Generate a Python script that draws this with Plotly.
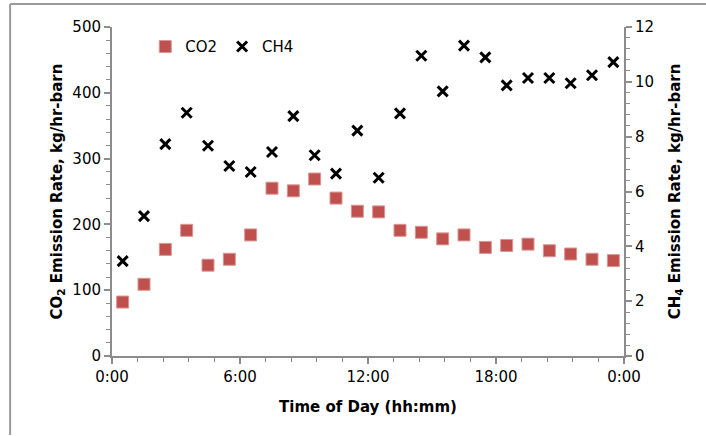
import plotly.graph_objects as go

# hour of day (mid-point of each hourly interval)
hours = [0.5, 1.5, 2.5, 3.5, 4.5, 5.5, 6.5, 7.5, 8.5, 9.5, 10.5, 11.5,
         12.5, 13.5, 14.5, 15.5, 16.5, 17.5, 18.5, 19.5, 20.5, 21.5, 22.5, 23.5]

co2 = [82, 109, 162, 191, 138, 147, 184, 255, 251, 269, 240, 220,
       219, 191, 188, 178, 184, 165, 168, 170, 160, 155, 147, 145]

ch4 = [3.46, 5.1, 7.73, 8.87, 7.67, 6.93, 6.71, 7.44, 8.75, 7.32, 6.65, 8.22,
       6.5, 8.85, 10.95, 9.65, 11.32, 10.89, 9.87, 10.14, 10.14, 9.95, 10.24, 10.72]

x_ticks = [0, 6, 12, 18, 24]
x_labels = ["0:00", "6:00", "12:00", "18:00", "0:00"]

font = "DejaVu Sans, Arial, sans-serif"
axis_grey = "#8c8c8c"

fig = go.Figure()
fig.add_trace(go.Scatter(
    x=hours, y=co2, name="CO2", mode="markers",
    marker=dict(symbol="square", size=12, color="#c0504d",
                line=dict(width=1, color="#d99694")),
))
fig.add_trace(go.Scatter(
    x=hours, y=ch4, name="CH4", mode="markers", yaxis="y2",
    marker=dict(symbol="x-thin", size=10, color="black",
                line=dict(width=3, color="black")),
))

tick_font = dict(family=font, size=15, color="black")
title_font = dict(family=font, size=15, color="black")

fig.update_layout(
    width=706, height=436,
    margin=dict(l=112, r=82, t=27, b=80),
    paper_bgcolor="white", plot_bgcolor="white",
    font=dict(family=font, size=15, color="black"),
    showlegend=True,
    legend=dict(orientation="h", x=0.065, y=0.99, xanchor="left", yanchor="top",
                bgcolor="rgba(0,0,0,0)", font=dict(family=font, size=15),
                itemwidth=30, tracegroupgap=0),
    xaxis=dict(
        range=[0, 24], tickmode="array", tickvals=x_ticks, ticktext=x_labels,
        tickfont=tick_font, automargin=False,
        showgrid=False, zeroline=False, showline=True, linecolor=axis_grey,
        linewidth=2, ticks="outside", ticklen=6, tickwidth=1.5, tickcolor=axis_grey,
        minor=dict(tickmode="linear", tick0=0, dtick=1.2, ticks="outside",
                   ticklen=4, tickcolor=axis_grey, tickwidth=1),
        title=dict(text="<b>Time of Day (hh:mm)</b>", font=title_font, standoff=16),
    ),
    yaxis=dict(
        range=[0, 500], dtick=100, showgrid=False, zeroline=False,
        tickfont=tick_font, automargin=False,
        showline=True, linecolor=axis_grey, linewidth=2,
        ticks="outside", ticklen=6, tickwidth=1.5, tickcolor=axis_grey,
        minor=dict(dtick=20, ticks="outside", ticklen=4, tickcolor=axis_grey, tickwidth=1),
        title=dict(text="<b>CO<sub>2</sub> Emission Rate, kg/hr-barn</b>",
                   font=title_font, standoff=6),
    ),
    yaxis2=dict(
        range=[0, 12], dtick=2, overlaying="y", side="right",
        showgrid=False, zeroline=False,
        tickfont=tick_font, automargin=False,
        showline=True, linecolor=axis_grey, linewidth=2,
        ticks="outside", ticklen=6, tickwidth=1.5, tickcolor=axis_grey,
        minor=dict(dtick=0.4, ticks="outside", ticklen=4, tickcolor=axis_grey, tickwidth=1),
        title=dict(text="<b>CH<sub>4</sub> Emission Rate, kg/hr-barn</b>",
                   font=title_font, standoff=16),
    ),
)

# chart area border (left and top edges visible in the original)
fig.add_shape(type="line", xref="paper", yref="paper",
              x0=-0.199, x1=-0.199, y0=-0.24, y1=1.07,
              line=dict(color="#9a9a9a", width=2))
fig.add_shape(type="line", xref="paper", yref="paper",
              x0=-0.199, x1=1.2, y0=1.07, y1=1.07,
              line=dict(color="#9a9a9a", width=2))

# drop the browser's default page margin so the figure sits at the window edge
fig.write_html("out.html", config={"displayModeBar": False},
               post_script="document.body.style.margin='0';")
